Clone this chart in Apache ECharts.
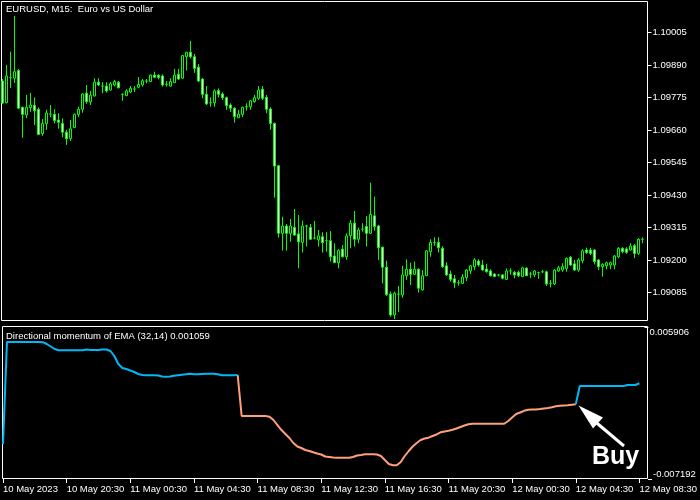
<!DOCTYPE html>
<html><head><meta charset="utf-8">
<script src="https://cdn.jsdelivr.net/npm/echarts@6/dist/echarts.min.js"></script>
<style>html,body{margin:0;padding:0;background:#000;}#c{width:700px;height:500px;}</style>
</head><body><div id="c"></div>
<script>
// ---- data ----
const chartTitle = 'EURUSD, M15:  Euro vs US Dollar';
const indicatorName = 'Directional momentum of EMA (32,14)';
const xTickLabels = ['10 May 2023','10 May 20:30','11 May 00:30','11 May 04:30','11 May 08:30','11 May 12:30','11 May 16:30','11 May 20:30','12 May 00:30','12 May 04:30','12 May 08:30'];
const priceTicks = [1.09085,1.09200,1.09315,1.09430,1.09545,1.09660,1.09775,1.09890,1.10005];
const indicatorTop = 0.005906;
const indicatorBottom = -0.007192;

const opens = [
1.09834,1.09757,1.09846,1.09844,1.09871,1.09741,1.09714,1.09740,1.09748,1.09734,
1.09648,1.09683,1.09717,1.09716,1.09696,1.09684,1.09653,1.09630,1.09669,1.09716,
1.09734,1.09791,1.09760,1.09781,1.09830,1.09816,1.09816,1.09802,1.09820,1.09830,
1.09787,1.09782,1.09795,1.09806,1.09812,1.09820,1.09834,1.09832,1.09855,1.09854,
1.09852,1.09822,1.09816,1.09828,1.09858,1.09844,1.09920,1.09936,1.09920,1.09883,
1.09841,1.09787,1.09757,1.09757,1.09800,1.09788,1.09775,1.09749,1.09738,1.09704,
1.09716,1.09743,1.09743,1.09761,1.09773,1.09805,1.09776,1.09735,1.09684,1.09534,
1.09295,1.09321,1.09295,1.09316,1.09293,1.09263,1.09321,1.09316,1.09278,1.09272,
1.09283,1.09269,1.09269,1.09215,1.09191,1.09239,1.09212,1.09287,1.09331,1.09274,
1.09310,1.09319,1.09295,1.09357,1.09321,1.09246,1.09175,1.09080,1.09006,1.09080,
1.09077,1.09145,1.09168,1.09150,1.09168,1.09095,1.09145,1.09230,1.09262,1.09263,
1.09242,1.09180,1.09151,1.09134,1.09120,1.09118,1.09138,1.09162,1.09177,1.09197,
1.09183,1.09169,1.09162,1.09151,1.09148,1.09148,1.09132,1.09162,1.09157,1.09157,
1.09142,1.09172,1.09151,1.09148,1.09156,1.09159,1.09159,1.09118,1.09116,1.09162,
1.09165,1.09171,1.09210,1.09187,1.09165,1.09198,1.09236,1.09236,1.09236,1.09201,
1.09177,1.09180,1.09183,1.09183,1.09212,1.09242,1.09240,1.09236,1.09251,1.09224,
1.09274];
const closes = [
1.09756,1.09852,1.09846,1.09867,1.09738,1.09716,1.09741,1.09749,1.09729,1.09645,
1.09684,1.09721,1.09717,1.09694,1.09688,1.09653,1.09630,1.09665,1.09716,1.09734,
1.09788,1.09761,1.09784,1.09830,1.09820,1.09816,1.09799,1.09824,1.09832,1.09810,
1.09787,1.09799,1.09808,1.09806,1.09822,1.09835,1.09834,1.09855,1.09847,1.09846,
1.09820,1.09822,1.09832,1.09855,1.09841,1.09924,1.09936,1.09920,1.09879,1.09834,
1.09787,1.09753,1.09757,1.09799,1.09787,1.09775,1.09747,1.09738,1.09708,1.09717,
1.09741,1.09743,1.09764,1.09775,1.09802,1.09773,1.09734,1.09684,1.09533,1.09295,
1.09321,1.09295,1.09321,1.09289,1.09265,1.09321,1.09321,1.09274,1.09278,1.09286,
1.09262,1.09269,1.09212,1.09191,1.09234,1.09212,1.09286,1.09331,1.09274,1.09307,
1.09310,1.09295,1.09362,1.09319,1.09244,1.09175,1.09079,1.09006,1.09083,1.09080,
1.09148,1.09168,1.09150,1.09168,1.09101,1.09145,1.09233,1.09263,1.09262,1.09244,
1.09177,1.09148,1.09132,1.09120,1.09120,1.09140,1.09165,1.09180,1.09201,1.09183,
1.09165,1.09159,1.09145,1.09142,1.09148,1.09136,1.09162,1.09162,1.09148,1.09145,
1.09173,1.09145,1.09151,1.09162,1.09156,1.09159,1.09116,1.09118,1.09165,1.09173,
1.09177,1.09207,1.09183,1.09165,1.09201,1.09233,1.09227,1.09224,1.09195,1.09177,
1.09185,1.09191,1.09191,1.09215,1.09242,1.09230,1.09228,1.09250,1.09224,1.09274,
1.09274];
const lows = [
1.09753,1.09755,1.09809,1.09827,1.09735,1.09633,1.09702,1.09725,1.09678,1.09642,
1.09640,1.09661,1.09706,1.09684,1.09665,1.09635,1.09608,1.09622,1.09668,1.09706,
1.09722,1.09753,1.09749,1.09779,1.09816,1.09791,1.09793,1.09800,1.09815,1.09808,
1.09764,1.09781,1.09791,1.09795,1.09808,1.09814,1.09826,1.09831,1.09844,1.09840,
1.09814,1.09814,1.09814,1.09828,1.09838,1.09841,1.09871,1.09914,1.09863,1.09831,
1.09773,1.09749,1.09743,1.09743,1.09776,1.09767,1.09732,1.09724,1.09687,1.09704,
1.09706,1.09729,1.09732,1.09757,1.09767,1.09767,1.09720,1.09661,1.09421,1.09280,
1.09234,1.09234,1.09265,1.09286,1.09171,1.09227,1.09248,1.09272,1.09274,1.09248,
1.09227,1.09230,1.09195,1.09190,1.09171,1.09210,1.09201,1.09242,1.09248,1.09260,
1.09301,1.09248,1.09293,1.09304,1.09201,1.09118,1.09073,1.09000,1.08992,1.09016,
1.09067,1.09130,1.09112,1.09148,1.09085,1.09092,1.09144,1.09212,1.09251,1.09227,
1.09173,1.09144,1.09124,1.09101,1.09110,1.09116,1.09126,1.09151,1.09165,1.09177,
1.09163,1.09156,1.09142,1.09140,1.09142,1.09132,1.09130,1.09148,1.09136,1.09140,
1.09140,1.09144,1.09136,1.09140,1.09134,1.09154,1.09109,1.09104,1.09112,1.09159,
1.09159,1.09159,1.09180,1.09162,1.09159,1.09189,1.09222,1.09218,1.09185,1.09165,
1.09142,1.09168,1.09168,1.09168,1.09207,1.09224,1.09222,1.09234,1.09207,1.09218,
1.09260];
const highs = [
1.09841,1.09891,1.09938,1.10064,1.09876,1.09743,1.09785,1.09792,1.09776,1.09740,
1.09699,1.09732,1.09749,1.09734,1.09720,1.09702,1.09661,1.09696,1.09719,1.09743,
1.09791,1.09820,1.09799,1.09844,1.09844,1.09830,1.09830,1.09830,1.09838,1.09834,
1.09790,1.09805,1.09816,1.09816,1.09848,1.09841,1.09841,1.09857,1.09867,1.09858,
1.09858,1.09834,1.09844,1.09877,1.09877,1.09926,1.09937,1.09976,1.09930,1.09894,
1.09844,1.09816,1.09776,1.09805,1.09808,1.09794,1.09779,1.09755,1.09741,1.09732,
1.09743,1.09755,1.09767,1.09785,1.09816,1.09816,1.09785,1.09741,1.09687,1.09537,
1.09354,1.09328,1.09346,1.09381,1.09360,1.09340,1.09325,1.09328,1.09339,1.09307,
1.09299,1.09299,1.09303,1.09260,1.09239,1.09254,1.09295,1.09342,1.09374,1.09315,
1.09331,1.09356,1.09474,1.09425,1.09325,1.09248,1.09198,1.09089,1.09089,1.09109,
1.09180,1.09203,1.09191,1.09195,1.09171,1.09165,1.09236,1.09274,1.09281,1.09281,
1.09250,1.09193,1.09163,1.09148,1.09130,1.09151,1.09169,1.09183,1.09207,1.09203,
1.09201,1.09187,1.09168,1.09154,1.09151,1.09151,1.09171,1.09171,1.09162,1.09163,
1.09177,1.09175,1.09159,1.09165,1.09159,1.09165,1.09163,1.09130,1.09168,1.09180,
1.09189,1.09209,1.09215,1.09201,1.09207,1.09239,1.09244,1.09244,1.09239,1.09203,
1.09189,1.09195,1.09195,1.09218,1.09246,1.09246,1.09246,1.09260,1.09257,1.09278,
1.09281];
const momentum = [
-0.004202,0.004613,0.004613,0.004613,0.004613,0.004613,0.004613,0.004613,0.004613,0.004613,
0.004596,0.004441,0.004226,0.004010,0.003898,0.003898,0.003898,0.003898,0.003898,0.003898,
0.003898,0.003967,0.003924,0.003924,0.003924,0.003967,0.003967,0.003838,0.003407,0.002718,
0.002373,0.002287,0.002158,0.002028,0.001856,0.001770,0.001744,0.001744,0.001744,0.001727,
0.001641,0.001624,0.001641,0.001701,0.001744,0.001787,0.001830,0.001882,0.001830,0.001830,
0.001856,0.001882,0.001882,0.001882,0.001830,0.001744,0.001744,0.001744,0.001744,0.001770,
-0.001763,-0.001763,-0.001763,-0.001763,-0.001763,-0.001763,-0.001763,-0.001832,-0.002108,-0.002539,
-0.002970,-0.003314,-0.003659,-0.004090,-0.004391,-0.004521,-0.004693,-0.004779,-0.004891,-0.004995,
-0.005081,-0.005253,-0.005296,-0.005339,-0.005356,-0.005356,-0.005356,-0.005356,-0.005296,-0.005167,
-0.005124,-0.005063,-0.005063,-0.005063,-0.005081,-0.005210,-0.005555,-0.005899,-0.006011,-0.006011,
-0.005727,-0.005210,-0.004779,-0.004391,-0.004090,-0.003831,-0.003702,-0.003633,-0.003487,-0.003357,
-0.003168,-0.003099,-0.003030,-0.002952,-0.002840,-0.002711,-0.002582,-0.002478,-0.002427,-0.002427,
-0.002427,-0.002427,-0.002427,-0.002427,-0.002427,-0.002427,-0.002427,-0.002194,-0.001892,-0.001591,
-0.001462,-0.001315,-0.001229,-0.001203,-0.001194,-0.001160,-0.001117,-0.001074,-0.001013,-0.000927,
-0.000884,-0.000858,-0.000841,-0.000798,-0.000755,0.000822,0.000822,0.000822,0.000822,0.000822,
0.000822,0.000822,0.000822,0.000822,0.000822,0.000822,0.000822,0.000908,0.000908,0.000908,
0.001059];

// bar times: 15-minute bars starting 10 May 2023 16:30
const months = ['Jan','Feb','Mar','Apr','May','Jun','Jul','Aug','Sep','Oct','Nov','Dec'];
const startMs = Date.UTC(2023, 4, 10, 16, 30);
const categories = opens.map((_, i) => {
  const d = new Date(startMs + i * 15 * 60000);
  const hh = String(d.getUTCHours()).padStart(2, '0'), mm = String(d.getUTCMinutes()).padStart(2, '0');
  return d.getUTCDate() + ' ' + months[d.getUTCMonth()] + ' ' + hh + ':' + mm;
});

// ---- build ----
const n = opens.length;
const candles = opens.map((o, i) => [o, closes[i], lows[i], highs[i]]);
const upLine = momentum.map((v, i) => (v >= 0 || (i + 1 < n && momentum[i + 1] >= 0)) ? v : null);
const downLine = momentum.map((v, i) => ((i > 0 && v < 0) || (i + 1 < n && momentum[i + 1] < 0)) ? v : null);

const FONT = 'Liberation Sans, Arial, sans-serif';
const FS = 9.5;
const chart = echarts.init(document.getElementById('c'), null, {renderer: 'canvas'});
chart.setOption({
  backgroundColor: '#000',
  animation: false,
  textStyle: {fontFamily: FONT},
  title: [
    {text: chartTitle, left: 6, top: 4.5, padding: 0,
     textStyle: {color: '#fff', fontSize: FS, fontWeight: 'normal', fontFamily: FONT}},
    {text: indicatorName + ' ' + momentum[n - 1].toFixed(6), left: 6, top: 331.5, padding: 0,
     textStyle: {color: '#fff', fontSize: FS, fontWeight: 'normal', fontFamily: FONT}}
  ],
  grid: [
    {left: 0.5, top: 2, width: 644, height: 319},
    {left: 0.5, top: 327, width: 644, height: 152}
  ],
  xAxis: [
    {type: 'category', gridIndex: 0, data: categories, boundaryGap: true, show: false},
    {type: 'category', gridIndex: 1, data: categories, boundaryGap: true, position: 'bottom',
     axisLine: {show: false, onZero: false},
     axisTick: {show: true, alignWithLabel: true, length: 4, interval: (i) => i % 16 === 0, lineStyle: {color: '#fff', width: 1}},
     axisLabel: {interval: (i) => i % 16 === 0, formatter: (v, i) => xTickLabels[i / 16],
                 color: '#fff', fontSize: FS, fontFamily: FONT, align: 'left', margin: 5},
     splitLine: {show: false}}
  ],
  yAxis: [
    {type: 'value', gridIndex: 0, position: 'right', offset: 3, min: 1.089848, max: 1.101136, scale: true,
     axisLine: {show: false}, splitLine: {show: false},
     axisTick: {show: true, length: 4, customValues: priceTicks, lineStyle: {color: '#fff'}},
     axisLabel: {customValues: priceTicks, formatter: (v) => v.toFixed(5), color: '#fff', fontSize: FS, fontFamily: FONT, margin: 5}},
    {type: 'value', gridIndex: 1, position: 'right', offset: 3, min: indicatorBottom, max: indicatorTop,
     axisLine: {show: false}, splitLine: {show: false},
     axisTick: {show: true, length: 4, customValues: [indicatorTop], lineStyle: {color: '#fff'}},
     axisLabel: {customValues: [indicatorTop], formatter: (v) => v.toFixed(6), verticalAlign: 'top',
                 color: '#fff', fontSize: FS, fontFamily: FONT, margin: 5}},
    {type: 'value', gridIndex: 1, position: 'left', offset: -647, min: indicatorBottom, max: indicatorTop,
     axisLine: {show: false}, splitLine: {show: false},
     axisTick: {show: true, inside: true, length: 4, customValues: [indicatorBottom], lineStyle: {color: '#fff'}},
     axisLabel: {inside: true, customValues: [indicatorBottom], formatter: (v) => v.toFixed(6), verticalAlign: 'bottom',
                 color: '#fff', fontSize: FS, fontFamily: FONT, margin: 5}}
  ],
  series: [
    {type: 'candlestick', xAxisIndex: 0, yAxisIndex: 0, data: candles, barWidth: 2,
     itemStyle: {color: '#000000', color0: '#ffffff', borderColor: '#00ff00', borderColor0: '#00ff00',
                 borderColorDoji: '#00ff00', borderWidth: 1}},
    {type: 'line', xAxisIndex: 1, yAxisIndex: 1, data: downLine, showSymbol: false, symbol: 'none',
     lineStyle: {color: '#ffa07a', width: 2}, z: 2},
    {type: 'line', xAxisIndex: 1, yAxisIndex: 1, data: upLine, showSymbol: false, symbol: 'none',
     lineStyle: {color: '#00b8f5', width: 2}, z: 3}
  ],
  graphic: [
    {type: 'rect', shape: {x: 1.5, y: 1.5, width: 646, height: 319}, style: {fill: null, stroke: '#fff', lineWidth: 1}, silent: true},
    {type: 'rect', shape: {x: 2.5, y: 326.5, width: 645, height: 152}, style: {fill: null, stroke: '#fff', lineWidth: 1}, silent: true},
    {type: 'line', shape: {x1: 624, y1: 446, x2: 592, y2: 419}, style: {stroke: '#fff', lineWidth: 3}, silent: true},
    {type: 'polygon', shape: {points: [[578.5, 405.5], [603, 417.5], [593, 428.5]]}, style: {fill: '#fff'}, silent: true},
    {type: 'text', x: 592, y: 457.5, style: {text: 'Buy', fill: '#fff', font: 'bold 25px Liberation Sans, Arial, sans-serif', verticalAlign: 'middle'}, silent: true}
  ]
});
</script>
</body></html>
